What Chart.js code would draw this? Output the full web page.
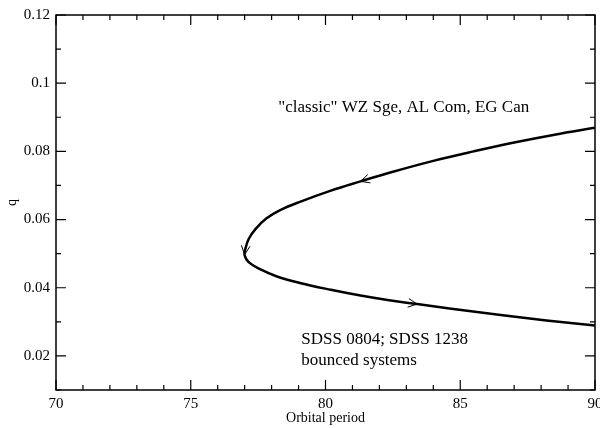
<!DOCTYPE html>
<html>
<head>
<meta charset="utf-8">
<script src="https://cdn.jsdelivr.net/npm/chart.js@4/dist/chart.umd.min.js"></script>
<style>
html,body{margin:0;padding:0;background:#fff;}
#wrap{width:600px;height:428px;}
</style>
</head>
<body>
<div id="wrap"><canvas id="c"></canvas></div>
<script>
// Evolution track (orbital period, mass ratio q), ordered from upper-right through the turning point to lower-right
const period = [90, 88.5, 87.0, 85.5, 84.0, 82.5, 81.3, 80.2, 79.05, 78.3, 77.8, 77.4, 77.15, 77.03, 77.0,
                77.15, 77.55, 78.2, 79.05, 80.2, 81.3, 82.3, 83.4, 84.6, 86.5, 88.2, 90];
const qValues = [0.0869, 0.0849, 0.0826, 0.0800, 0.0772, 0.0740, 0.0712, 0.0685, 0.0652, 0.0627, 0.0603, 0.0572, 0.0543, 0.0515, 0.0495,
                 0.0475, 0.0455, 0.0433, 0.0414, 0.0394, 0.0377, 0.0364, 0.0352, 0.0339, 0.0320, 0.0304, 0.0289];

// Direction arrows on the track
const arrowPeriod = [81.3, 77.0, 83.4];
const arrowQ = [0.0712, 0.0497, 0.0352];

// Axis ticks
const xTickValues = [70,71,72,73,74,75,76,77,78,79,80,81,82,83,84,85,86,87,88,89,90];
const xTickLabels = ['70','75','80','85','90'];
const yTickValues = [0.01,0.02,0.03,0.04,0.05,0.06,0.07,0.08,0.09,0.10,0.11,0.12];
const yTickLabels = ['0.02','0.04','0.06','0.08','0.1','0.12'];

// Annotations
const annotationTexts = ['"classic" WZ Sge, AL Com, EG Can', 'SDSS 0804; SDSS 1238', 'bounced systems'];
const annotationPeriod = [78.25, 79.1, 79.1];
const annotationQ = [0.0916, 0.0235, 0.0173];

const serif = '"Liberation Serif", "DejaVu Serif", serif';

function isXMajor(v){ return xTickLabels.indexOf(String(Math.round(v))) >= 0; }
function yLabelFor(v){
  for (const l of yTickLabels){ if (Math.abs(parseFloat(l) - v) < 1e-6) return l; }
  return '';
}

const frame = {
  id: 'frame',
  afterDatasetsDraw(chart){
    const ctx = chart.ctx, a = chart.chartArea, xs = chart.scales.x, ys = chart.scales.y;
    ctx.save();
    ctx.strokeStyle = '#000';
    ctx.lineWidth = 1.5;
    ctx.strokeRect(a.left, a.top, a.right - a.left, a.bottom - a.top);
    ctx.lineWidth = 1.2;
    ctx.beginPath();
    xs.ticks.forEach(t => {
      const px = xs.getPixelForValue(t.value);
      const len = isXMajor(t.value) ? 10 : 5;
      ctx.moveTo(px, a.bottom); ctx.lineTo(px, a.bottom - len);
      ctx.moveTo(px, a.top); ctx.lineTo(px, a.top + len);
    });
    ys.ticks.forEach(t => {
      const py = ys.getPixelForValue(t.value);
      const len = yLabelFor(t.value) ? 10 : 5;
      ctx.moveTo(a.left, py); ctx.lineTo(a.left + len, py);
      ctx.moveTo(a.right, py); ctx.lineTo(a.right - len, py);
    });
    ctx.stroke();

    // arrows: direction from the track ordering
    const pts = period.map((p,i) => ({x: xs.getPixelForValue(p), y: ys.getPixelForValue(qValues[i])}));
    ctx.lineWidth = 1;
    arrowPeriod.forEach((p, k) => {
      const ax = xs.getPixelForValue(p), ay = ys.getPixelForValue(arrowQ[k]);
      let best = 0, bd = Infinity;
      for (let i = 0; i < pts.length - 1; i++){
        const mx = (pts[i].x + pts[i+1].x)/2, my = (pts[i].y + pts[i+1].y)/2;
        const d = (mx-ax)*(mx-ax) + (my-ay)*(my-ay);
        if (d < bd){ bd = d; best = i; }
      }
      const ang = Math.atan2(pts[best+1].y - pts[best].y, pts[best+1].x - pts[best].x);
      const L = 10, h = 0.45;
      ctx.beginPath();
      ctx.moveTo(ax - L*Math.cos(ang - h), ay - L*Math.sin(ang - h));
      ctx.lineTo(ax, ay);
      ctx.lineTo(ax - L*Math.cos(ang + h), ay - L*Math.sin(ang + h));
      ctx.stroke();
    });

    ctx.fillStyle = '#000';
    ctx.font = '17px ' + serif;
    ctx.textAlign = 'left';
    ctx.textBaseline = 'alphabetic';
    annotationTexts.forEach((t, i) => {
      ctx.fillText(t, xs.getPixelForValue(annotationPeriod[i]), ys.getPixelForValue(annotationQ[i]));
    });
    ctx.restore();
  }
};

new Chart(document.getElementById('c'), {
  type: 'scatter',
  data: {
    datasets: [{
      data: period.map((p, i) => ({x: p, y: qValues[i]})),
      showLine: true,
      borderColor: '#000',
      borderWidth: 2.5,
      pointRadius: 0,
      tension: 0.4,
      fill: false
    }]
  },
  options: {
    responsive: true,
    maintainAspectRatio: false,
    animation: false,
    layout: { padding: { top: 14, right: 5, left: 0, bottom: 0 } },
    plugins: { legend: { display: false }, tooltip: { enabled: false } },
    scales: {
      x: {
        type: 'linear', min: 70, max: 90,
        afterBuildTicks: s => { s.ticks = xTickValues.map(v => ({value: v})); },
        afterFit: s => { s.height = 38; s.paddingLeft = 0; s.paddingRight = 0; },
        grid: { display: false, drawTicks: false },
        border: { display: false },
        ticks: {
          autoSkip: false, maxRotation: 0, padding: 5,
          color: '#000', font: { family: serif, size: 15 },
          callback: v => isXMajor(v) ? String(Math.round(v)) : ''
        },
        title: { display: true, text: 'Orbital period', color: '#000', font: { family: serif, size: 14 }, padding: { top: 0, bottom: 1 } }
      },
      y: {
        type: 'linear', min: 0.01, max: 0.12,
        afterBuildTicks: s => { s.ticks = yTickValues.map(v => ({value: v})); },
        afterFit: s => { s.width = 56; },
        grid: { display: false, drawTicks: false },
        border: { display: false },
        ticks: {
          autoSkip: false, padding: 6,
          color: '#000', font: { family: serif, size: 15 },
          callback: v => yLabelFor(v)
        },
        title: { display: true, text: 'q', color: '#000', font: { family: serif, size: 14 }, padding: { top: 4, bottom: 0 } }
      }
    }
  },
  plugins: [frame]
});
</script>
</body>
</html>
